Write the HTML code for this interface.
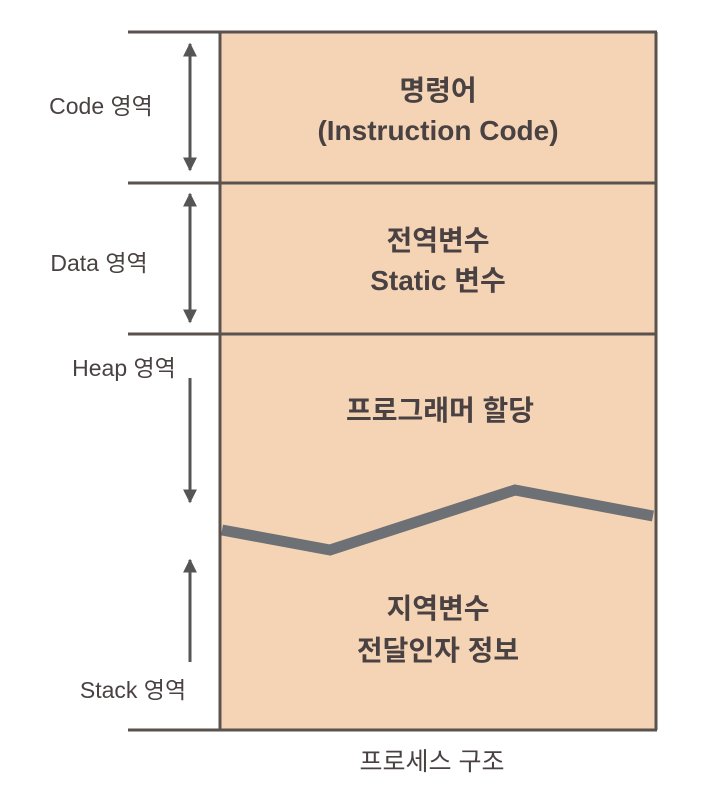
<!DOCTYPE html>
<html><head><meta charset="utf-8"><style>
html,body{margin:0;padding:0;background:#fff;}
svg{display:block}
.t{font-family:"Liberation Sans","Noto Sans CJK KR",sans-serif;fill:#4a4242;}
.b{font-weight:bold;font-size:28px;}
.s{font-size:23px;}
</style></head><body>
<svg width="708" height="806" viewBox="0 0 708 806" xmlns="http://www.w3.org/2000/svg">
<defs>
<marker id="h" viewBox="0 0 10 10" markerWidth="14" markerHeight="14" refX="9" refY="5" orient="auto-start-reverse" markerUnits="userSpaceOnUse"><path d="M0,0 L10,5 L0,10 Z" fill="#555"/></marker></defs>
<rect x="220" y="32" width="436" height="698" fill="#f5d4b6"/>
<polyline points="222,530 330,550 515,490 653,516" fill="none" stroke="#6d7075" stroke-width="11" stroke-linejoin="miter"/>
<g stroke="#5a524e" stroke-width="3" fill="none">
<line x1="128" y1="32" x2="657" y2="32"/>
<line x1="128" y1="183" x2="657" y2="183"/>
<line x1="128" y1="334" x2="657" y2="334"/>
<line x1="128" y1="730" x2="657" y2="730"/>
<line x1="220" y1="32" x2="220" y2="730"/>
<line x1="656" y1="32" x2="656" y2="730"/>
</g>
<g stroke="#555" stroke-width="3">
<line x1="190" y1="44" x2="190" y2="170" marker-start="url(#h)" marker-end="url(#h)"/>
<line x1="190" y1="194" x2="190" y2="322" marker-start="url(#h)" marker-end="url(#h)"/>
<line x1="190" y1="378" x2="190" y2="502" marker-end="url(#h)"/>
<line x1="190" y1="662" x2="190" y2="560" marker-end="url(#h)"/>
</g>
<text class="t s" x="101" y="114" text-anchor="middle">Code 영역</text>
<text class="t s" x="99" y="271" text-anchor="middle">Data 영역</text>
<text class="t s" x="124" y="376" text-anchor="middle">Heap 영역</text>
<text class="t s" x="133" y="698" text-anchor="middle">Stack 영역</text>
<text class="t b" x="438" y="100" text-anchor="middle">명령어</text>
<text class="t b" x="438" y="140" text-anchor="middle">(Instruction Code)</text>
<text class="t b" x="438" y="250" text-anchor="middle">전역변수</text>
<text class="t b" x="438" y="290" text-anchor="middle">Static 변수</text>
<text class="t b" x="440" y="420" text-anchor="middle">프로그래머 할당</text>
<text class="t b" x="438" y="618" text-anchor="middle">지역변수</text>
<text class="t b" x="438" y="660" text-anchor="middle">전달인자 정보</text>
<text class="t s" x="432" y="770" text-anchor="middle" style="font-size:25px">프로세스 구조</text>
</svg>
</body></html>
